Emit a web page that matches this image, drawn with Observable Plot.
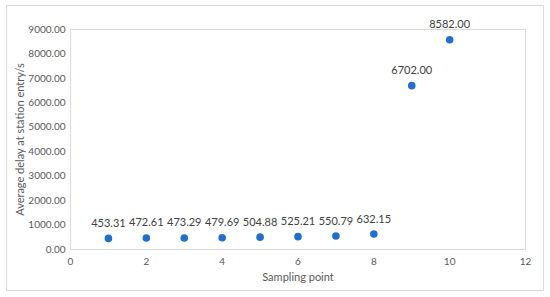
<!DOCTYPE html>
<html>
<head>
<meta charset="utf-8">
<script src="https://cdn.jsdelivr.net/npm/d3@7"></script>
<script src="https://cdn.jsdelivr.net/npm/@observablehq/plot@0.6"></script>
<style>
  html, body { margin: 0; padding: 0; background: #fff; }
  #chart { width: 550px; height: 297px; }
</style>
</head>
<body>
<div id="chart"></div>
<script>
const samplingPoints = [1, 2, 3, 4, 5, 6, 7, 8, 9, 10];
const avgDelay = [453.31, 472.61, 473.29, 479.69, 504.88, 525.21, 550.79, 632.15, 6702.00, 8582.00];
const xTicks = [0, 2, 4, 6, 8, 10, 12];
const yTicks = [0, 1000, 2000, 3000, 4000, 5000, 6000, 7000, 8000, 9000];

const data = samplingPoints.map((x, i) => ({x, y: avgDelay[i]}));
const fmt = d3.format(".2f");

const chart = Plot.plot({
  width: 550,
  height: 297,
  marginLeft: 70,
  marginRight: 25,
  marginTop: 29,
  marginBottom: 48,
  style: {fontFamily: "Lato, 'Open Sans', sans-serif", fontSize: "10px", color: "#595959", background: "#fff"},
  x: {domain: [0, 12]},
  y: {domain: [0, 9000]},
  marks: [
    Plot.frame({stroke: "#d9d9d9", insetLeft: -64, insetTop: -24, insetRight: -18, insetBottom: -41}),
    Plot.frame({stroke: "#d9d9d9"}),
    Plot.axisX({ticks: xTicks, tickSize: 0, tickPadding: 8, tickFormat: d => d, fontSize: 10, label: null}),
    Plot.axisY({ticks: yTicks, tickSize: 0, tickPadding: 5, tickFormat: fmt, fontSize: 10, label: null}),
    Plot.text(["Sampling point"], {frameAnchor: "bottom", dy: 31, fontSize: 11, fill: "#595959"}),
    Plot.text(["Average delay at station entry/s"], {frameAnchor: "left", textAnchor: "middle", dx: -50, rotate: -90, fontSize: 11, fill: "#595959"}),
    Plot.dot(data, {x: "x", y: "y", r: 3.8, fill: "#1f6fd0", stroke: "none"}),
    Plot.text(data, {x: "x", y: "y", text: d => fmt(d.y), dy: -15, fill: "#404040", fontSize: 11})
  ]
});
document.getElementById("chart").appendChild(chart);
</script>
</body>
</html>
